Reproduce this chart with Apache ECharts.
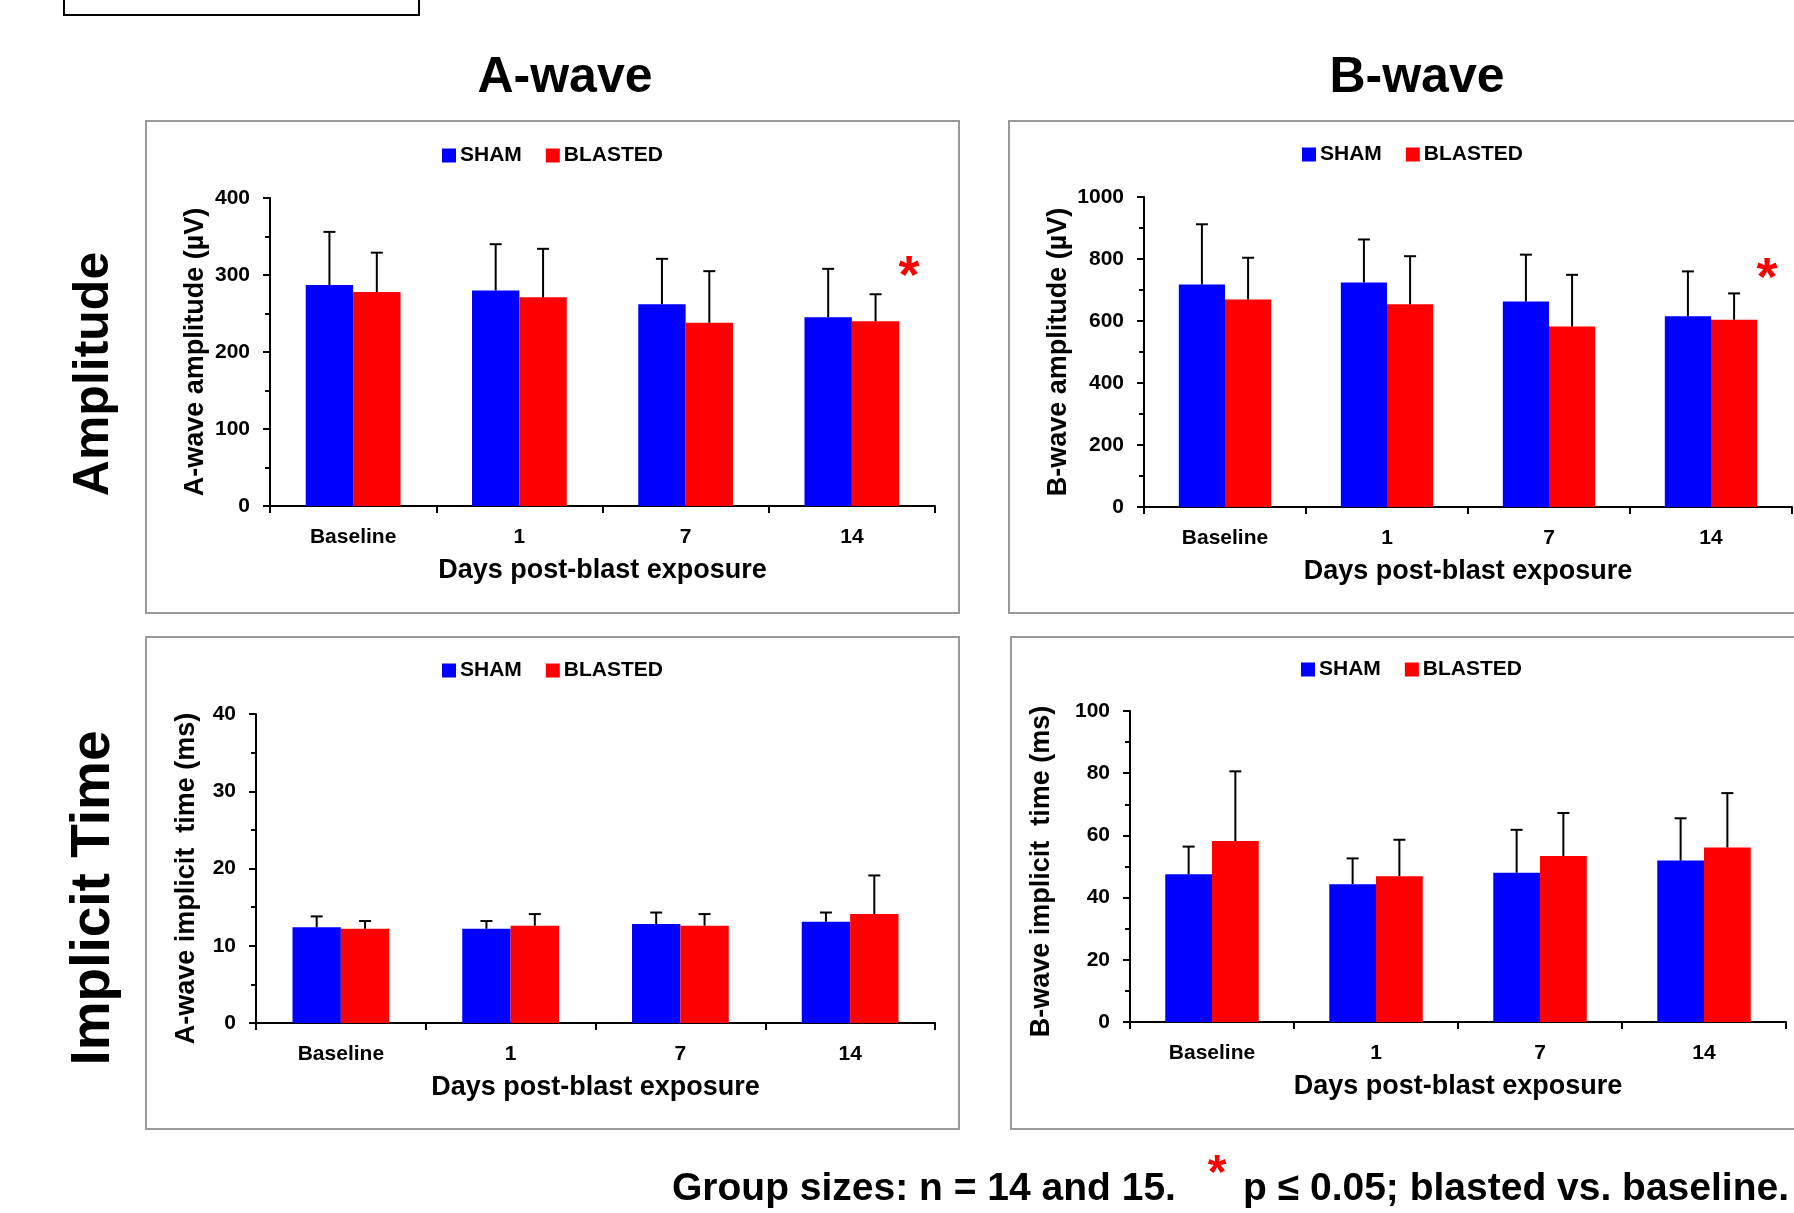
<!DOCTYPE html>
<html>
<head>
<meta charset="utf-8">
<script src="https://cdn.jsdelivr.net/npm/echarts@6/dist/echarts.min.js"></script>
<style>
  html, body { margin: 0; padding: 0; background: #ffffff; }
  #chart { width: 1794px; height: 1213px; }
</style>
</head>
<body>
<div id="chart"></div>
<script>
// ---- data ---------------------------------------------------------------
const days = ['Baseline', '1', '7', '14'];
const groupNames = ['SHAM', 'BLASTED'];

// A-wave amplitude (µV): means and SD
const aAmpSham    = [287, 280, 262, 245];
const aAmpShamSD  = [69, 60, 59, 63];
const aAmpBlast   = [278, 271, 238, 240];
const aAmpBlastSD = [51, 63, 67, 35];

// B-wave amplitude (µV)
const bAmpSham    = [718, 724, 663, 615];
const bAmpShamSD  = [194, 139, 151, 145];
const bAmpBlast   = [669, 654, 582, 604];
const bAmpBlastSD = [135, 155, 167, 85];

// A-wave implicit time (ms)
const aTimeSham    = [12.4, 12.2, 12.8, 13.1];
const aTimeShamSD  = [1.4, 1.0, 1.5, 1.2];
const aTimeBlast   = [12.2, 12.6, 12.6, 14.1];
const aTimeBlastSD = [1.0, 1.5, 1.5, 5.0];

// B-wave implicit time (ms)
const bTimeSham    = [47.5, 44.3, 48.0, 51.9];
const bTimeShamSD  = [8.9, 8.3, 13.8, 13.6];
const bTimeBlast   = [58.2, 46.9, 53.4, 56.1];
const bTimeBlastSD = [22.4, 11.7, 13.8, 17.5];

// value-axis ranges: [min, max, major step]
const aAmpRange  = [0, 400, 100];
const bAmpRange  = [0, 1000, 200];
const aTimeRange = [0, 40, 10];
const bTimeRange = [0, 100, 20];

// ---- styling ------------------------------------------------------------
const FONT = "'Liberation Sans', Arial, Helvetica, sans-serif";
const BLUE = '#0000ff';
const RED = '#ff0000';
const CAT_GAP = 0.43;

const panels = [
  { grid: { left: 270,  top: 198, width: 665, height: 308 }, range: aAmpRange,
    yName: 'A-wave amplitude (\u00b5V)', yGap: 61, yShift: 0,
    sham: aAmpSham, shamSD: aAmpShamSD, blast: aAmpBlast, blastSD: aAmpBlastSD,
    legend: { left: 442, top: 145 } },
  { grid: { left: 1144, top: 197, width: 648, height: 310 }, range: bAmpRange,
    yName: 'B-wave amplitude (\u00b5V)', yGap: 72, yShift: 0,
    sham: bAmpSham, shamSD: bAmpShamSD, blast: bAmpBlast, blastSD: bAmpBlastSD,
    legend: { left: 1302, top: 144 } },
  { grid: { left: 256,  top: 714, width: 679, height: 309 }, range: aTimeRange,
    yName: 'A-wave implicit  time (ms)', yGap: 56, yShift: 20,
    sham: aTimeSham, shamSD: aTimeShamSD, blast: aTimeBlast, blastSD: aTimeBlastSD,
    legend: { left: 442, top: 660 } },
  { grid: { left: 1130, top: 711, width: 656, height: 311 }, range: bTimeRange,
    yName: 'B-wave implicit  time (ms)', yGap: 75, yShift: 10,
    sham: bTimeSham, shamSD: bTimeShamSD, blast: bTimeBlast, blastSD: bTimeBlastSD,
    legend: { left: 1301, top: 659 } }
];

// upward-only error bar with a short cap, centred on its bar
function errorBars(idx, means, sds, side) {
  return {
    type: 'custom',
    xAxisIndex: idx,
    yAxisIndex: idx,
    z: 3,
    silent: true,
    data: means.map((m, i) => [i, m, m + sds[i]]),
    renderItem(params, api) {
      const c = api.value(0);
      const base = api.coord([c, api.value(1)]);
      const top = api.coord([c, api.value(2)]);
      const band = api.size([1, 0])[0];
      const bw = band * (1 - CAT_GAP) / 2;
      const x = base[0] + side * bw / 2;
      const cap = 6;
      const st = { stroke: '#000', lineWidth: 2 };
      return {
        type: 'group',
        children: [
          { type: 'line', shape: { x1: x, y1: base[1], x2: x, y2: top[1] }, style: st },
          { type: 'line', shape: { x1: x - cap, y1: top[1], x2: x + cap, y2: top[1] }, style: st }
        ]
      };
    }
  };
}

const grids = [], xAxes = [], yAxes = [], series = [], legends = [];
panels.forEach((p, i) => {
  grids.push(Object.assign({ containLabel: false }, p.grid));
  xAxes.push({
    type: 'category', gridIndex: i, data: days,
    name: 'Days post-blast exposure', nameLocation: 'middle', nameGap: 51,
    nameTextStyle: { fontFamily: FONT, fontWeight: 'bold', fontSize: 27, color: '#000' },
    axisLine: { lineStyle: { color: '#000', width: 2 } },
    axisTick: { show: true, length: 7, lineStyle: { color: '#000', width: 2 } },
    axisLabel: { fontFamily: FONT, fontWeight: 'bold', fontSize: 21, color: '#000', margin: 21 },
    splitLine: { show: false }
  });
  yAxes.push({
    type: 'value', gridIndex: i,
    min: p.range[0], max: p.range[1], interval: p.range[2],
    name: p.yName, nameLocation: 'middle', nameGap: p.yGap,
    nameTextStyle: { fontFamily: FONT, fontWeight: 'bold', fontSize: 27, color: '#000',
                     padding: [0, p.yShift, 0, 0] },
    axisLine: { show: true, lineStyle: { color: '#000', width: 2 } },
    axisTick: { show: true, length: 7, lineStyle: { color: '#000', width: 2 } },
    minorTick: { show: true, splitNumber: 2, length: 5, lineStyle: { color: '#000', width: 2 } },
    axisLabel: { fontFamily: FONT, fontWeight: 'bold', fontSize: 21, color: '#000', margin: 20,
                 formatter: v => String(v) },
    splitLine: { show: false }
  });
  series.push({
    name: groupNames[0], type: 'bar', xAxisIndex: i, yAxisIndex: i,
    data: p.sham, itemStyle: { color: BLUE },
    barGap: '0%', barCategoryGap: (CAT_GAP * 100) + '%', z: 2
  });
  series.push({
    name: groupNames[1], type: 'bar', xAxisIndex: i, yAxisIndex: i,
    data: p.blast, itemStyle: { color: RED },
    barGap: '0%', barCategoryGap: (CAT_GAP * 100) + '%', z: 2
  });
  series.push(errorBars(i, p.sham, p.shamSD, -1));
  series.push(errorBars(i, p.blast, p.blastSD, 1));
  legends.push({
    data: groupNames, left: p.legend.left, top: p.legend.top,
    orient: 'horizontal', padding: 0, itemGap: 24,
    icon: 'rect', itemWidth: 14, itemHeight: 14, selectedMode: false,
    textStyle: { fontFamily: FONT, fontWeight: 'bold', fontSize: 21, color: '#000', padding: [0, 0, 0, -1] }
  });
});

// panel frames, headings and notes
const frame = (x, y, w, h) => ({
  type: 'rect', shape: { x: x, y: y, width: w, height: h }, silent: true, z: -1,
  style: { fill: 'none', stroke: '#9a9a9a', lineWidth: 2 }
});
const bigText = (txt, x, y, size, extra) => Object.assign({
  type: 'text', x: x, y: y, silent: true,
  style: { text: txt, fontFamily: FONT, fontWeight: 'bold', fontSize: size, fill: '#000',
           align: 'center', verticalAlign: 'middle' }
}, extra || {});
const star = (x, y, size) => ({
  type: 'text', x: x, y: y, silent: true,
  style: { text: '*', fontFamily: FONT, fontWeight: 'bold', fontSize: size, fill: RED,
           align: 'center', verticalAlign: 'middle' }
});

const graphics = [
  { type: 'rect', shape: { x: 64, y: -10, width: 355, height: 25 }, silent: true,
    style: { fill: 'none', stroke: '#000', lineWidth: 2 } },
  frame(146, 121, 813, 492),
  frame(1009, 121, 800, 492),
  frame(146, 637, 813, 492),
  frame(1011, 637, 800, 492),
  bigText('A-wave', 565, 78, 50),
  bigText('B-wave', 1417, 78, 50),
  bigText('Amplitude', 94, 374, 50, { rotation: Math.PI / 2 }),
  bigText('Implicit Time', 94, 898, 55, { rotation: Math.PI / 2 }),
  star(909, 278, 54),
  star(1767, 280, 54),
  { type: 'text', x: 672, y: 1189, silent: true,
    style: { text: 'Group sizes: n = 14 and 15.', fontFamily: FONT, fontWeight: 'bold', fontSize: 39, fill: '#000', align: 'left', verticalAlign: 'middle' } },
  star(1217, 1175, 48),
  { type: 'text', x: 1789, y: 1189, silent: true,
    style: { text: 'p \u2264 0.05; blasted vs. baseline.', fontFamily: FONT, fontWeight: 'bold', fontSize: 39, fill: '#000', align: 'right', verticalAlign: 'middle' } }
];

const chart = echarts.init(document.getElementById('chart'), null, { renderer: 'canvas' });
chart.setOption({
  backgroundColor: '#ffffff',
  animation: false,
  textStyle: { fontFamily: FONT },
  legend: legends,
  grid: grids,
  xAxis: xAxes,
  yAxis: yAxes,
  series: series,
  graphic: graphics
});
</script>
</body>
</html>
